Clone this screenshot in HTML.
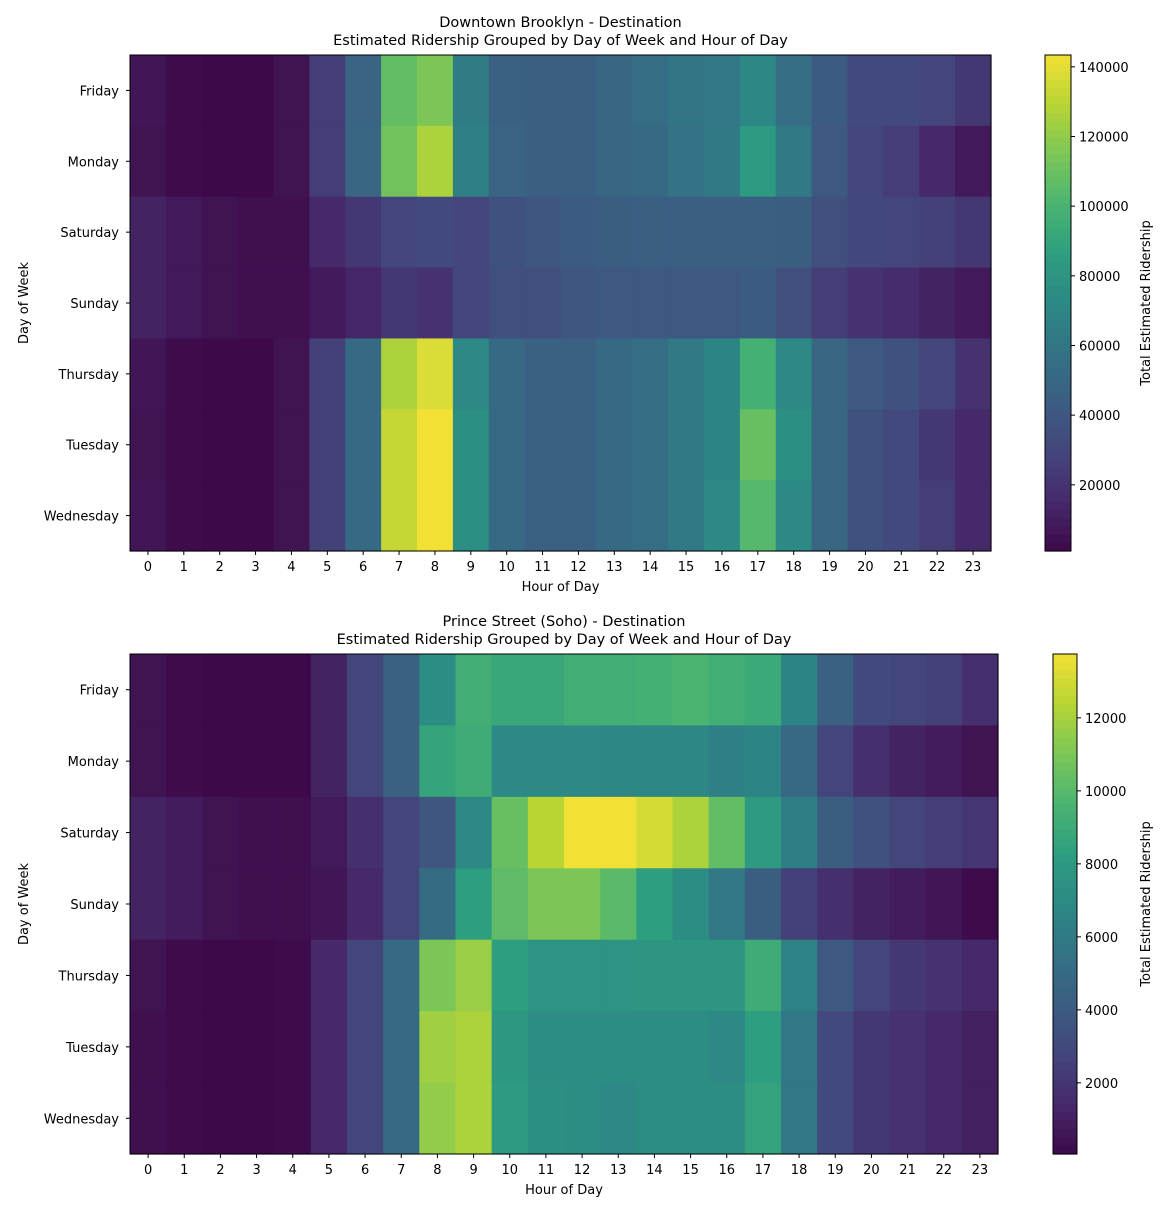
<!DOCTYPE html>
<html><head><meta charset="utf-8"><style>
html,body{margin:0;padding:0;background:#fff}
svg text{font-family:"DejaVu Sans","Liberation Sans",sans-serif;fill:#000}
</style></head><body>
<svg id="s" width="1168" height="1204" xmlns="http://www.w3.org/2000/svg"></svg>
<script>
const V=[[68,1,84],[72,36,117],[65,68,135],[53,95,141],[42,120,142],[33,145,140],[34,168,132],[68,191,112],[122,209,81],[189,223,38],[253,231,37]];
function vir(t){t=Math.max(0,Math.min(1,t));let f=t*10,i=Math.min(9,Math.floor(f)),r=f-i;const a=V[i],b=V[i+1];let c=a.map((x,k)=>x+(b[k]-x)*r);
 const m=(c[0]+c[1]+c[2])/3;const d=0.22-0.1*t;c=c.map(x=>x*(1-d)+m*d-3*(1-t));
 return `rgb(${c.map(x=>Math.round(Math.max(0,Math.min(255,x)))).join(',')})`;}
const days=["Friday","Monday","Saturday","Sunday","Thursday","Tuesday","Wednesday"];
const A=[
[0.04,0.01,0,0,0.03,0.17,0.33,0.75,0.8,0.44,0.32,0.31,0.31,0.34,0.38,0.41,0.42,0.49,0.38,0.29,0.22,0.22,0.2,0.15],
[0.03,0.01,0,0,0.03,0.17,0.34,0.78,0.88,0.46,0.33,0.31,0.31,0.34,0.36,0.4,0.43,0.58,0.43,0.28,0.2,0.17,0.1,0.05],
[0.08,0.05,0.03,0.02,0.02,0.1,0.15,0.2,0.22,0.2,0.25,0.27,0.29,0.3,0.31,0.31,0.31,0.31,0.3,0.24,0.21,0.2,0.18,0.15],
[0.08,0.05,0.03,0.02,0.02,0.05,0.09,0.15,0.13,0.2,0.24,0.24,0.27,0.28,0.28,0.28,0.28,0.29,0.24,0.17,0.13,0.11,0.08,0.05],
[0.04,0.01,0,0,0.03,0.18,0.36,0.88,0.96,0.5,0.36,0.32,0.32,0.36,0.38,0.43,0.48,0.68,0.5,0.34,0.28,0.25,0.2,0.13],
[0.03,0.01,0,0,0.03,0.18,0.36,0.92,1.0,0.53,0.36,0.32,0.32,0.36,0.38,0.43,0.48,0.76,0.53,0.34,0.25,0.22,0.15,0.1],
[0.04,0.01,0,0,0.03,0.18,0.36,0.92,1.0,0.53,0.36,0.32,0.32,0.36,0.38,0.43,0.5,0.72,0.5,0.34,0.25,0.22,0.17,0.1]];
const B=[
[0.03,0.01,0,0,0,0.08,0.2,0.32,0.52,0.67,0.64,0.64,0.67,0.67,0.68,0.7,0.67,0.65,0.48,0.32,0.22,0.2,0.18,0.12],
[0.03,0.01,0,0,0,0.08,0.2,0.32,0.63,0.66,0.5,0.5,0.5,0.49,0.49,0.49,0.46,0.48,0.35,0.2,0.12,0.08,0.06,0.03],
[0.08,0.06,0.03,0.02,0.02,0.05,0.12,0.2,0.27,0.5,0.76,0.9,1,1,0.95,0.88,0.75,0.58,0.45,0.3,0.25,0.2,0.17,0.14],
[0.08,0.06,0.03,0.02,0.02,0.04,0.1,0.2,0.37,0.6,0.74,0.8,0.8,0.73,0.6,0.52,0.42,0.3,0.18,0.12,0.08,0.06,0.04,0.01],
[0.03,0.01,0,0,0.01,0.1,0.2,0.36,0.8,0.85,0.6,0.55,0.55,0.55,0.56,0.56,0.56,0.66,0.47,0.28,0.2,0.15,0.13,0.1],
[0.02,0.01,0,0,0.01,0.1,0.2,0.36,0.86,0.88,0.57,0.52,0.52,0.52,0.52,0.52,0.5,0.6,0.42,0.22,0.15,0.13,0.1,0.07],
[0.02,0.01,0,0,0.01,0.1,0.2,0.36,0.84,0.88,0.58,0.53,0.52,0.5,0.52,0.52,0.52,0.62,0.42,0.22,0.15,0.13,0.1,0.07]];
let h="";
function T(x,y,s,o){o=o||{};h+=`<text x="${x}" y="${y}" font-size="${o.fs||13}" text-anchor="${o.a||'middle'}" ${o.r?`transform="rotate(-90 ${x} ${y})"`:''}>${s}</text>`;}
function chart(D,x0,y0,x1,y1,t1,cy1,cbx,cbw,ticks,vtop,vbot){
 const cx=(x0+x1)/2;T(cx,cy1,t1,{fs:14.5});T(cx,cy1+18,"Estimated Ridership Grouped by Day of Week and Hour of Day",{fs:14.5});
 const cw=(x1-x0)/24,rh=(y1-y0)/7;
 for(let r=0;r<7;r++)for(let c=0;c<24;c++)h+=`<rect x="${(x0+c*cw).toFixed(2)}" y="${(y0+r*rh).toFixed(2)}" width="${(cw+0.6).toFixed(2)}" height="${(rh+0.6).toFixed(2)}" fill="${vir(D[r][c])}"/>`;
 h+=`<rect x="${x0}" y="${y0}" width="${x1-x0}" height="${y1-y0}" fill="none" stroke="#000" stroke-width="1"/>`;
 for(let r=0;r<7;r++){const y=y0+(r+0.5)*rh;h+=`<line x1="${x0-4}" x2="${x0}" y1="${y}" y2="${y}" stroke="#000"/>`;T(x0-11,y+5,days[r],{a:'end'});}
 for(let c=0;c<24;c++){const x=x0+(c+0.5)*cw;h+=`<line x1="${x}" x2="${x}" y1="${y1}" y2="${y1+4}" stroke="#000"/>`;T(x,y1+20,c);}
 T(cx,y1+40,"Hour of Day");T(28,(y0+y1)/2,"Day of Week",{r:1});
 const N=60;for(let i=0;i<N;i++){const yy=y0+i*(y1-y0)/N;h+=`<rect x="${cbx}" y="${yy.toFixed(2)}" width="${cbw}" height="${((y1-y0)/N+0.6).toFixed(2)}" fill="${vir(1-(i+0.5)/N)}"/>`;}
 h+=`<rect x="${cbx}" y="${y0}" width="${cbw}" height="${y1-y0}" fill="none" stroke="#000"/>`;
 ticks.forEach(v=>{const y=y0+(vtop-v)/(vtop-vbot)*(y1-y0);h+=`<line x1="${cbx+cbw}" x2="${cbx+cbw+4}" y1="${y}" y2="${y}" stroke="#000"/>`;T(cbx+cbw+8,y+5,v,{a:'start'});});
 T(1150,(y0+y1)/2,"Total Estimated Ridership",{r:1});
}
chart(A,130,55,991,551,"Downtown Brooklyn - Destination",27,1045,26,[20000,40000,60000,80000,100000,120000,140000],143400,1000);
chart(B,130,654,998,1154,"Prince Street (Soho) - Destination",626,1053,24,[2000,4000,6000,8000,10000,12000],13750,50);
document.getElementById('s').innerHTML=h;
</script>
</body></html>
